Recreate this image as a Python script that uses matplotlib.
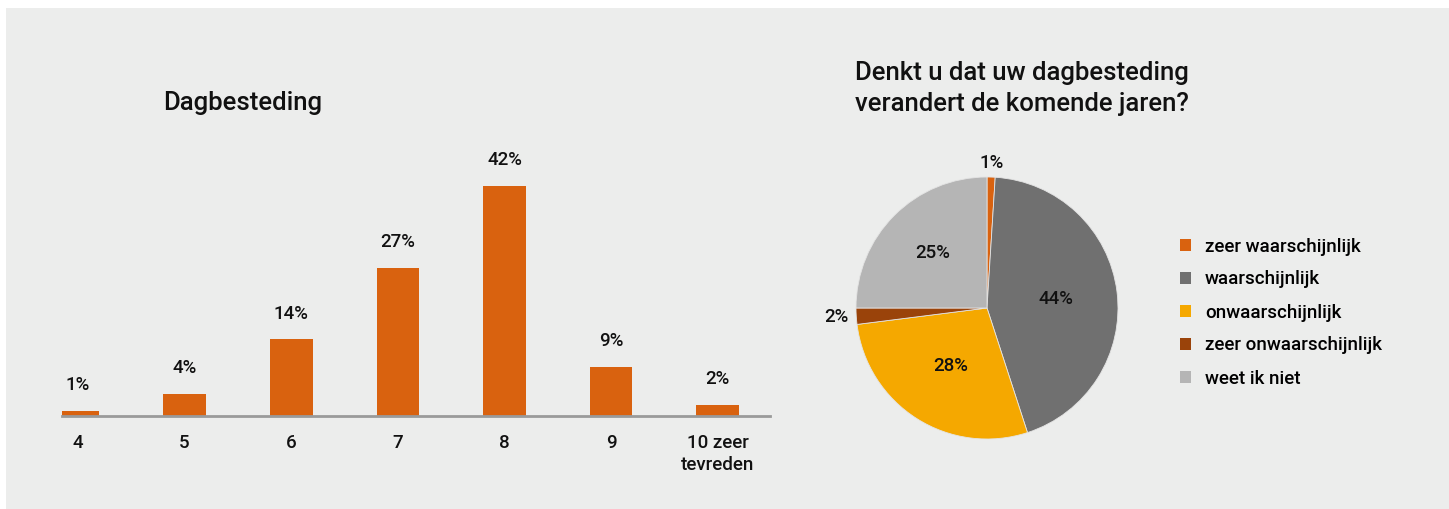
import matplotlib.pyplot as plt
from matplotlib.patches import Rectangle, Patch
import numpy as np

plt.rcParams['font.family'] = ['Roboto', 'DejaVu Sans']
plt.rcParams['font.weight'] = 'medium'

# --- data ---
bar_cats = ['4', '5', '6', '7', '8', '9', '10 zeer\ntevreden']
bar_vals = [1, 4, 14, 27, 42, 9, 2]

pie_labels = ['zeer waarschijnlijk', 'waarschijnlijk', 'onwaarschijnlijk',
              'zeer onwaarschijnlijk', 'weet ik niet']
pie_vals = [1, 44, 28, 2, 25]
pie_colors = ['#D9620F', '#707070', '#F5A800', '#9A430A', '#B5B5B5']

orange = '#D9620F'
bg = '#ECEDEC'
txt = '#111111'

fig = plt.figure(figsize=(14.49, 5.09), dpi=100)
fig.patch.set_facecolor('white')
# grey panel
fig.patches.append(Rectangle((6/1449, 0), 1, 1 - 8/509, transform=fig.transFigure,
                             facecolor=bg, edgecolor='none', zorder=-10))

#------------------------------------------------
# bar chart
#------------------------------------------------
ax = fig.add_axes([62/1449, 93/509, 708/1449, 246.6/509])
ax.set_facecolor('none')
x = np.arange(len(bar_cats))
ax.bar(x, bar_vals, width=0.40, color=orange, zorder=2)
ax.set_xlim(-0.15, 6.49)
ax.set_ylim(0, 45)
for xi, v in zip(x, bar_vals):
    ax.annotate('%d%%' % v, (xi, v), xytext=(0, 18.5), textcoords='offset points',
                ha='center', va='center', fontsize=13.5, color=txt)
ax.set_xticks(x)
ax.set_xticklabels(bar_cats, fontsize=13.5, color=txt, linespacing=1.25, va='top')
ax.tick_params(axis='x', length=0, pad=13)
ax.set_yticks([])
for s in ['top', 'right', 'left']:
    ax.spines[s].set_visible(False)
ax.spines['bottom'].set_color('#9A9A9A')
ax.spines['bottom'].set_linewidth(2)

fig.text(163/1449, 1 - 103/509, 'Dagbesteding', fontsize=18.5, color=txt,
         ha='left', va='center')

#------------------------------------------------
# pie chart
#------------------------------------------------
R = 131.0
half = 160.0
pax = fig.add_axes([(987 - half)/1449, (509 - 308 - half)/509, 2*half/1449, 2*half/509])
pax.set_facecolor('none')
wedges, _ = pax.pie(pie_vals, colors=pie_colors, startangle=90, counterclock=False,
                    radius=1, wedgeprops=dict(edgecolor='#E4E4E4', linewidth=0.6))
pax.set_xlim(-half/R, half/R)
pax.set_ylim(-half/R, half/R)
pax.set_aspect('equal')
pax.axis('off')

dists = [1.11, 0.53, 0.52, 1.15, 0.59]
for w, v, d in zip(wedges, pie_vals, dists):
    ang = np.deg2rad((w.theta1 + w.theta2) / 2)
    pax.text(d*np.cos(ang), d*np.sin(ang), '%d%%' % v, ha='center', va='center',
             fontsize=13.5, color=txt)

fig.text(855/1449, 1 - 73/509, 'Denkt u dat uw dagbesteding', fontsize=18.5,
         color=txt, ha='left', va='center')
fig.text(855/1449, 1 - 104/509, 'verandert de komende jaren?', fontsize=18.5,
         color=txt, ha='left', va='center')

handles = [Patch(facecolor=c, edgecolor='none') for c in pie_colors]
fig.legend(handles, pie_labels, loc='upper left',
           bbox_to_anchor=(1172/1449, 1 - 230/509), frameon=False, fontsize=13.5,
           handlelength=0.6, handleheight=0.6, handletextpad=0.75,
           labelspacing=0.8, borderaxespad=0)

fig.savefig('out.png', dpi=100, facecolor=fig.get_facecolor())
